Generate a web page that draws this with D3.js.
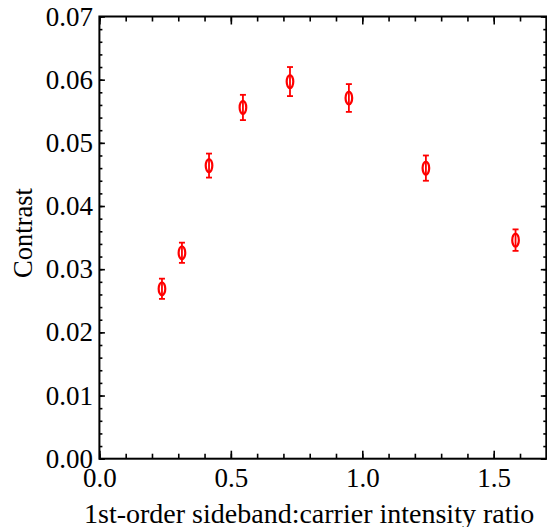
<!DOCTYPE html>
<html><head><meta charset="utf-8">
<script src="https://cdn.jsdelivr.net/npm/d3@7"></script>
<style>body{margin:0;background:#fff}svg{display:block}</style>
</head><body>
<script>
const ratio    = [0.238, 0.314, 0.417, 0.546, 0.725, 0.949, 1.242, 1.583];
const contrast = [0.0269, 0.0326, 0.0464, 0.0556, 0.0597, 0.0571, 0.0460, 0.0346];
const errors   = [0.0016, 0.0016, 0.0019, 0.0020, 0.0023, 0.0022, 0.0020, 0.0017];
const xTicks = [0.0, 0.5, 1.0, 1.5];
const yTicks = [0.00, 0.01, 0.02, 0.03, 0.04, 0.05, 0.06, 0.07];
const xLabel = "1st-order sideband:carrier intensity ratio";
const yLabel = "Contrast";

const W = 547, H = 527;
const L = 99.4, R = 546.3, T = 16.5, B = 458.7;
const svg = d3.select("body").append("svg").attr("width", W).attr("height", H);
const x = d3.scaleLinear().domain([0, 1.7]).range([L, R]);
const y = d3.scaleLinear().domain([0, 0.07]).range([B, T]);
const font = "'Liberation Serif','Times New Roman',serif";

const xMinor = d3.range(0, 1.7001, 0.1);
const yMinor = d3.range(0, 0.07001, 0.002);

function styleAxis(g){
  g.select(".domain").remove();
  g.selectAll("line").attr("stroke","#000").attr("stroke-width",1.6);
}
// bottom
svg.append("g").attr("transform",`translate(0,${B})`)
  .call(d3.axisBottom(x).tickValues(xMinor).tickSize(-5).tickFormat(""))
  .call(styleAxis);
svg.append("g").attr("transform",`translate(0,${B})`)
  .call(d3.axisBottom(x).tickValues(xTicks).tickSize(-8).tickPadding(9.4).tickFormat(d3.format(".1f")))
  .call(styleAxis)
  .call(g=>g.selectAll("text").attr("font-family",font).attr("font-size",27).attr("fill","#000"));
// top
svg.append("g").attr("transform",`translate(0,${T})`)
  .call(d3.axisTop(x).tickValues(xMinor).tickSize(-5).tickFormat("")).call(styleAxis);
svg.append("g").attr("transform",`translate(0,${T})`)
  .call(d3.axisTop(x).tickValues(xTicks).tickSize(-8).tickFormat("")).call(styleAxis);
// left
svg.append("g").attr("transform",`translate(${L},0)`)
  .call(d3.axisLeft(y).tickValues(yMinor).tickSize(-3).tickFormat("")).call(styleAxis);
svg.append("g").attr("transform",`translate(${L},0)`)
  .call(d3.axisLeft(y).tickValues(yTicks).tickSize(-5.5).tickPadding(6.3).tickFormat(d3.format(".2f")))
  .call(styleAxis)
  .call(g=>g.selectAll("text").attr("font-family",font).attr("font-size",27).attr("fill","#000"));
// right
svg.append("g").attr("transform",`translate(${R},0)`)
  .call(d3.axisRight(y).tickValues(yMinor).tickSize(-3).tickFormat("")).call(styleAxis);
svg.append("g").attr("transform",`translate(${R},0)`)
  .call(d3.axisRight(y).tickValues(yTicks).tickSize(-5.5).tickFormat("")).call(styleAxis);

// frame
svg.append("rect").attr("x",L).attr("y",T).attr("width",R-L).attr("height",B-T)
  .attr("fill","none").attr("stroke","#000").attr("stroke-width",2);

// data
const data = ratio.map((r,i)=>({r, c:contrast[i], e:errors[i]}));
const g = svg.append("g").attr("stroke","#ff0000").attr("fill","none");
g.selectAll(".eb").data(data).join("line")
  .attr("x1",d=>x(d.r)).attr("x2",d=>x(d.r))
  .attr("y1",d=>y(d.c-d.e)).attr("y2",d=>y(d.c+d.e)).attr("stroke-width",1.8);
g.selectAll(".capt").data(data).join("line")
  .attr("x1",d=>x(d.r)-3).attr("x2",d=>x(d.r)+3)
  .attr("y1",d=>y(d.c+d.e)).attr("y2",d=>y(d.c+d.e)).attr("stroke-width",1.8);
g.selectAll(".capb").data(data).join("line")
  .attr("x1",d=>x(d.r)-3).attr("x2",d=>x(d.r)+3)
  .attr("y1",d=>y(d.c-d.e)).attr("y2",d=>y(d.c-d.e)).attr("stroke-width",1.8);
g.selectAll("ellipse").data(data).join("ellipse")
  .attr("cx",d=>x(d.r)).attr("cy",d=>y(d.c)).attr("rx",3.3).attr("ry",6.5)
  .attr("stroke-width",2.2);

// labels
svg.append("text").attr("x",(82.7+535.6)/2).attr("y",522.5).attr("text-anchor","middle")
  .attr("font-family",font).attr("font-size",28).text(xLabel);
svg.append("text").attr("transform",`translate(32,233) rotate(-90)`)
  .attr("text-anchor","middle").attr("font-family",font).attr("font-size",26.5).text(yLabel);
</script>
</body></html>
